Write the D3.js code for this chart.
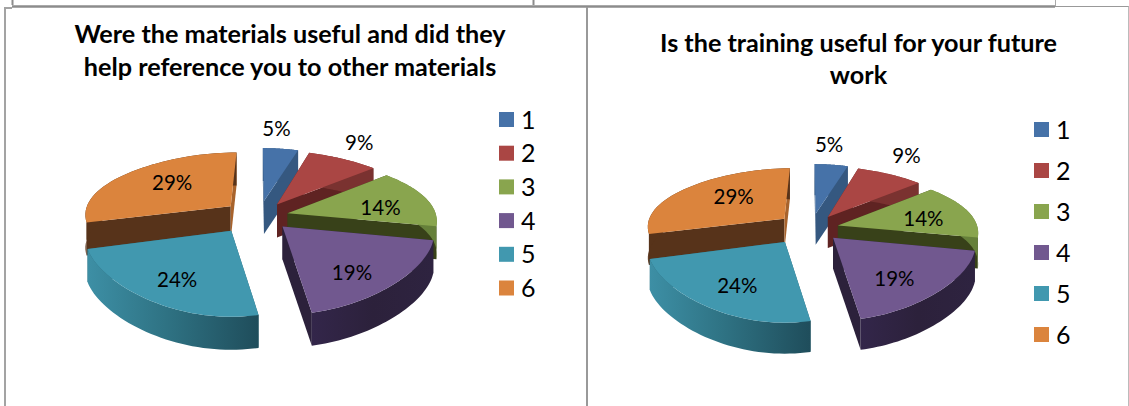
<!DOCTYPE html>
<html><head><meta charset="utf-8">
<script src="https://cdnjs.cloudflare.com/ajax/libs/d3/7.8.5/d3.min.js"></script>
<style>html,body{margin:0;padding:0;background:#fff;overflow:hidden}svg{display:block}text{font-family:Lato,"Open Sans",sans-serif;fill:#000}</style>
</head><body><div id="c"></div>
<script>
const categories = ["1","2","3","4","5","6"];
const values = [5,9,14,19,24,29];
const titleA = ["Were the materials useful and did they","help reference you to other materials"];
const titleB = ["Is the training useful for your future","work"];

const topColors  = ["#4672a8","#aa4644","#89a54e","#71588f","#4198af","#db843d"];
const startCut   = ["#355880","#5f2322","#384119","#2c213b","#2a6473","#57331a"];
const endCut     = ["#355880","#5f2322","#384119","#2c213b","#2a6473","#a8632c"];
const rimColors  = ["#355880","#7a3230","#66803a","url(#purpleRim)","url(#tealRim)","#57331a"];
const drawOrder  = [5,0,1,2,3,4];
const labelDist  = [1.32,1.38,0.62,0.62,0.62,0.62];
const nudgeU     = [0,0,-.02,0,-.065,-.02];
const nudgeV     = [0,.02,.03,.01,.04,0];
const sliceR     = [1,1,1,1,.96,.985];

const W=1129,H=406;
const svg=d3.select("#c").append("svg").attr("width",W).attr("height",H);
const defs=svg.append("defs");
function grad(id,stops){const g=defs.append("linearGradient").attr("id",id).attr("x1",0).attr("x2",1).attr("y1",0).attr("y2",0);
  stops.forEach(s=>g.append("stop").attr("offset",s[0]).attr("stop-color",s[1]));}
grad("tealRim",[[0,"#3d8fa5"],[.45,"#2f7384"],[1,"#1f4d5b"]]);
grad("purpleRim",[[0,"#33264a"],[.5,"#2c213b"],[1,"#2e2340"]]);

const frame=svg.append("g").attr("fill","none");
[["M12.5,0V5M533.5,0V5",2,"#8c8c8c"],["M12,6.5H1055",2.5,"#8c8c8c"],["M1055.5,0V6",1,"#aaa"],["M1055,6.5H1129",1,"#999"],
 ["M5,406V8H12",2,"#a3a3a3"],["M587,406V7",2,"#999"],["M1128.5,6.5V406",1,"#bbb"]]
 .forEach(d=>frame.append("path").attr("d",d[0]).attr("stroke-width",d[1]).attr("stroke",d[2]));

const pie=d3.pie().sort(null).value(d=>d)(values);
const line=d3.line();

function drawChart(o){
  const g=svg.append("g");
  o.title.forEach((t,i)=>g.append("text").attr("x",o.titleX).attr("y",o.titleY+i*o.titleDy)
    .attr("text-anchor","middle").attr("font-weight",700).attr("font-size",25.2).text(t));
  const px=(u,v)=>o.cx+o.s*1.071*(145-10*(v-.8)*(v-.8))*u;
  const py=(v)=>o.cy+o.s*67.2*v/(1-.183*v);
  const depth=33*o.s, ex=.22;
  drawOrder.forEach(i=>{
    const a=pie[i], mid=(a.startAngle+a.endAngle)/2;
    const ax=ex*Math.sin(mid)+nudgeU[i], ay=-ex*Math.cos(mid)+nudgeV[i];
    const P=(r,t)=>{const u=ax+r*Math.sin(t),v=ay-r*Math.cos(t);return [px(u,v),py(v)];};
    const rim=d3.range(0,1.0001,1/40).map(k=>P(sliceR[i],a.startAngle+k*(a.endAngle-a.startAngle)));
    const down=p=>[p[0],p[1]+depth];
    const apex=P(0,0);
    const sg=g.append("g");
    sg.append("path").attr("d",line([apex,rim[0],down(rim[0]),down(apex)])+"Z").attr("fill",startCut[i]);
    const e=rim[rim.length-1];
    sg.append("path").attr("d",line([apex,e,down(e),down(apex)])+"Z").attr("fill",endCut[i]);
    sg.append("path").attr("d",line(rim.concat(rim.slice().reverse().map(down)))+"Z").attr("fill",rimColors[i]);
    sg.append("path").attr("d",line([apex].concat(rim))+"Z").attr("fill",topColors[i]);
  });
  pie.forEach((a,i)=>{
    const mid=(a.startAngle+a.endAngle)/2, r=ex+labelDist[i];
    const u=r*Math.sin(mid),v=-r*Math.cos(mid);
    g.append("text").attr("x",px(u,v)+o.lab[i][0]).attr("y",py(v)+o.lab[i][1]).attr("dy","0.35em").attr("text-anchor","middle")
      .attr("font-size",20.5).text(values[i]+"%");
  });
  const yL=d3.scalePoint().domain(categories).range([o.legY,o.legY+5*o.legDy]);
  categories.forEach((c,i)=>{
    g.append("rect").attr("x",o.legX).attr("y",yL(c)).attr("width",15).attr("height",15).attr("fill",topColors[i]);
    g.append("text").attr("x",o.legX+22).attr("y",yL(c)+7.5).attr("dy","0.36em").attr("font-size",25).text(c);
  });
}
drawChart({title:titleA,titleX:290,titleY:43,titleDy:33,cx:259,cy:215,s:1,legX:499,legY:112,legDy:33.7,
  lab:[[-6,-6],[4,-1],[4,6],[1,13],[-12,10],[4,-1]]});
drawChart({title:titleB,titleX:858.5,titleY:52,titleDy:32,cx:811,cy:227,s:.94,legX:1034,legY:122,legDy:41,
  lab:[[-4,-7],[5,-4],[2,5],[-3,10],[-8,7],[8,0]]});
</script></body></html>
